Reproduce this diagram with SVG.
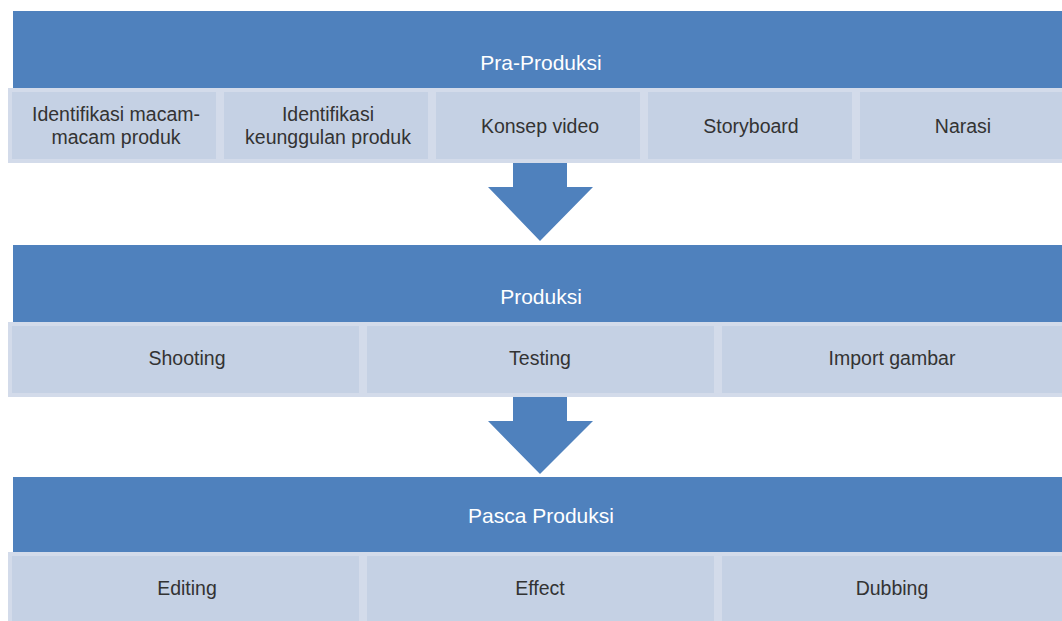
<svg xmlns="http://www.w3.org/2000/svg" width="1062" height="621" viewBox="0 0 1062 621">
<style>
.hdr{fill:#4f81bd}
.cell{fill:#c5d1e4;stroke:#d3dbea;stroke-width:4}
.arrow{fill:#4f81bd}
text{font-family:"Liberation Sans",Arial,sans-serif;font-size:19.5px;text-anchor:middle}
.ht{fill:#ffffff;font-size:21px}
.ct{fill:#333333}
</style>
<rect width="1062" height="621" fill="#ffffff"/>
<g id="pra-produksi">
<rect class="hdr" x="13" y="11" width="1058" height="77"/>
<text class="ht" x="541" y="70">Pra-Produksi</text>
</g>
<g id="pra-items">
<rect class="cell" x="10" y="90" width="208" height="71"/>
<rect class="cell" x="222" y="90" width="208" height="71"/>
<rect class="cell" x="434" y="90" width="208" height="71"/>
<rect class="cell" x="646" y="90" width="208" height="71"/>
<rect class="cell" x="858" y="90" width="208" height="71"/>
<text class="ct" x="116" y="121">Identifikasi macam-</text>
<text class="ct" x="116" y="144">macam produk</text>
<text class="ct" x="328" y="121">Identifikasi</text>
<text class="ct" x="328" y="144">keunggulan produk</text>
<text class="ct" x="540" y="133">Konsep video</text>
<text class="ct" x="751" y="133">Storyboard</text>
<text class="ct" x="963" y="133">Narasi</text>
</g>
<g id="produksi">
<rect class="hdr" x="13" y="245" width="1058" height="77"/>
<text class="ht" x="541" y="304">Produksi</text>
</g>
<g id="produksi-items">
<rect class="cell" x="10" y="324" width="351" height="71"/>
<rect class="cell" x="365" y="324" width="351" height="71"/>
<rect class="cell" x="720" y="324" width="351" height="71"/>
<text class="ct" x="187" y="365">Shooting</text>
<text class="ct" x="540" y="365">Testing</text>
<text class="ct" x="892" y="365">Import gambar</text>
</g>
<g id="pasca-produksi">
<rect class="hdr" x="13" y="477" width="1058" height="75"/>
<text class="ht" x="541" y="523">Pasca Produksi</text>
</g>
<g id="pasca-items">
<rect class="cell" x="10" y="554" width="351" height="71"/>
<rect class="cell" x="365" y="554" width="351" height="71"/>
<rect class="cell" x="720" y="554" width="351" height="71"/>
<text class="ct" x="187" y="595">Editing</text>
<text class="ct" x="540" y="595">Effect</text>
<text class="ct" x="892" y="595">Dubbing</text>
</g>
<g id="connectors">
<polygon class="arrow" points="513,163 567,163 567,187 593,187 540,241 488,187 513,187"/>
<polygon class="arrow" points="513,397 567,397 567,421 593,421 540,474 488,421 513,421"/>
</g>
</svg>
